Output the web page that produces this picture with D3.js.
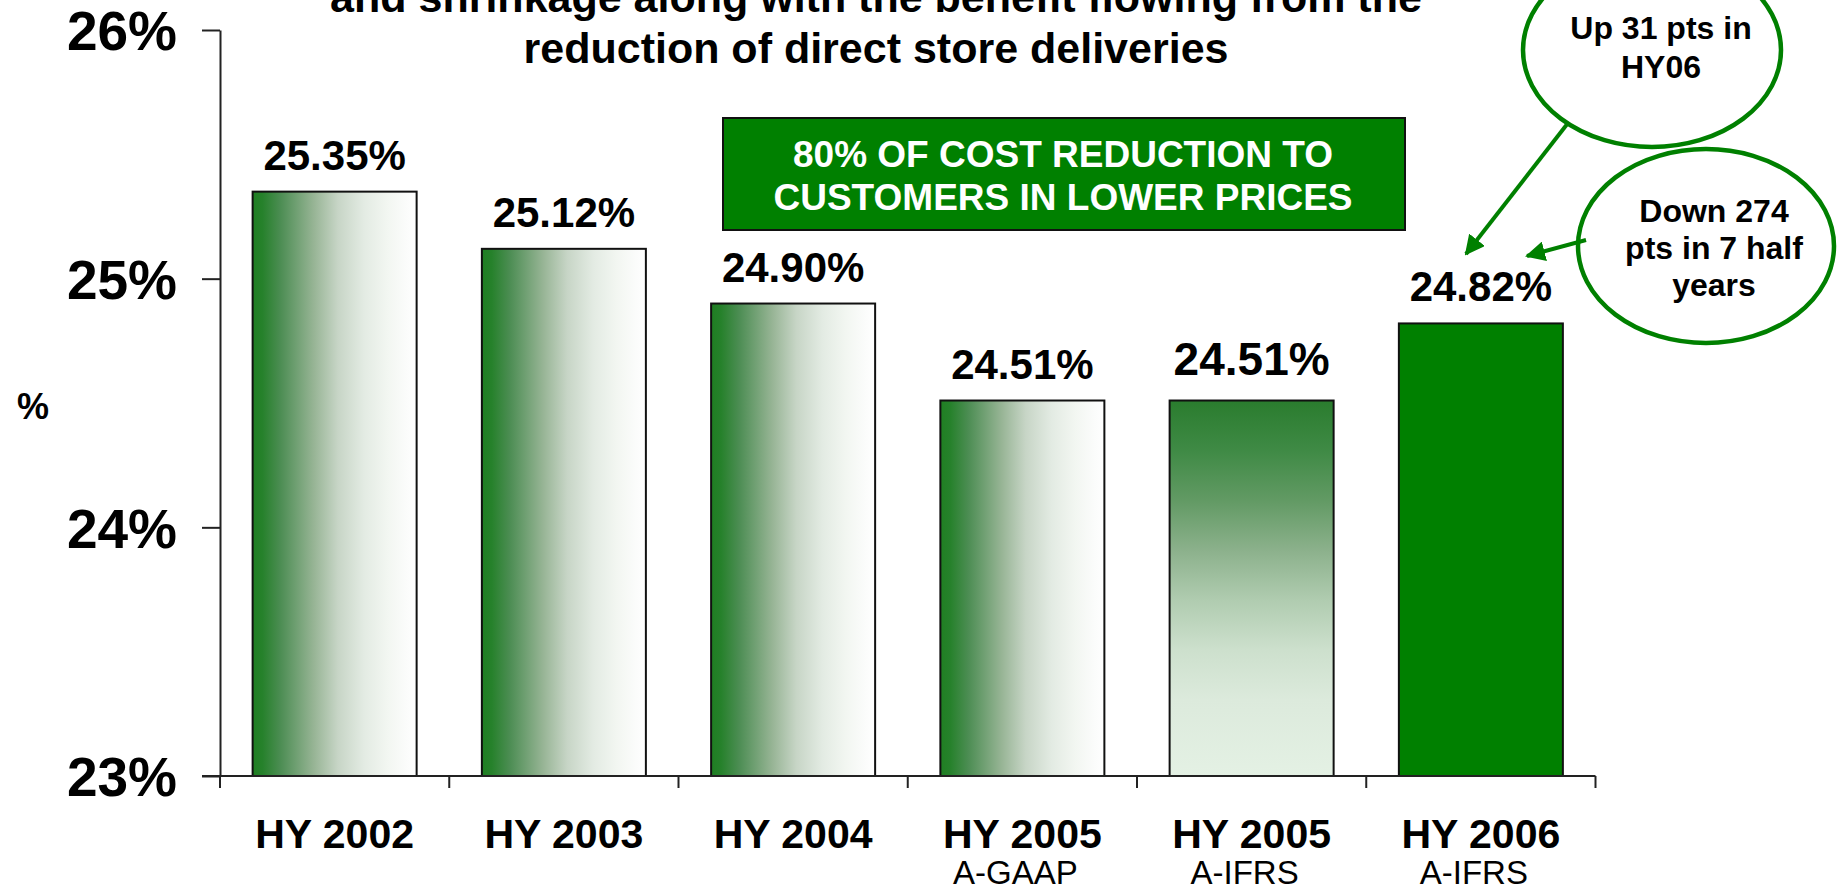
<!DOCTYPE html>
<html>
<head>
<meta charset="utf-8">
<script src="https://cdn.jsdelivr.net/npm/d3@7"></script>
<style>
  html, body { margin: 0; padding: 0; background: #fff; }
  svg { display: block; font-family: "Liberation Sans", Arial, sans-serif; }
</style>
</head>
<body>
<svg id="chart" width="1838" height="890"></svg>
<script>
// ---- data ----
const categories = ["HY 2002", "HY 2003", "HY 2004", "HY 2005 A-GAAP", "HY 2005 A-IFRS", "HY 2006 A-IFRS"];
const mainLabels = ["HY 2002", "HY 2003", "HY 2004", "HY 2005", "HY 2005", "HY 2006"];
const subLabels = ["", "", "", "A-GAAP", "A-IFRS", "A-IFRS"];
const values = [25.35, 25.12, 24.90, 24.51, 24.51, 24.82];
const valueLabels = ["25.35%", "25.12%", "24.90%", "24.51%", "24.51%", "24.82%"];
const fillStyles = ["hgrad", "hgrad", "hgrad", "hgrad", "vgrad", "solid"];
const yTicks = [23, 24, 25, 26];
const titleLines = ["and shrinkage along with the benefit flowing from the", "reduction of direct store deliveries"];
const boxLines = ["80% OF COST REDUCTION TO", "CUSTOMERS IN LOWER PRICES"];
const bubble1Lines = ["Up 31 pts in", "HY06"];
const bubble2Lines = ["Down 274", "pts in 7 half", "years"];

// ---- setup ----
const svg = d3.select("#chart");
const GREEN = "#008000";
const defs = svg.append("defs");

const hg = defs.append("linearGradient").attr("id", "hgrad")
  .attr("x1", "0%").attr("x2", "100%").attr("y1", "0%").attr("y2", "0%");
[[0, "#1f7f22"], [0.06, "#26812b"], [0.17, "#4c8d53"], [0.376, "#98b596"], [0.52, "#c7d5c6"],
 [0.68, "#e3ebe3"], [0.82, "#f2f6f1"], [0.94, "#fbfcfb"], [1, "#ffffff"]]
  .forEach(([o, c]) => hg.append("stop").attr("offset", o).attr("stop-color", c));

const vg = defs.append("linearGradient").attr("id", "vgrad")
  .attr("x1", "0%").attr("x2", "0%").attr("y1", "0%").attr("y2", "100%");
[[0, "#2a7c2e"], [0.133, "#3f8a45"], [0.266, "#629a64"], [0.4, "#8cb18c"], [0.532, "#b0ccb0"],
 [0.665, "#cde0cd"], [0.798, "#dceadc"], [1, "#e4f1e4"]]
  .forEach(([o, c]) => vg.append("stop").attr("offset", o).attr("stop-color", c));

defs.append("marker").attr("id", "arrow")
  .attr("viewBox", "0 0 10 10").attr("refX", 9).attr("refY", 5)
  .attr("markerWidth", 5).attr("markerHeight", 5).attr("markerUnits", "strokeWidth")
  .attr("orient", "auto")
  .append("path").attr("d", "M0,0 L10,5 L0,10 Z").attr("fill", GREEN);

// ---- scales ----
const x = d3.scaleBand().domain(categories).range([220, 1595.5])
  .paddingInner(0.2846).paddingOuter(0.1423);
const y = d3.scaleLinear().domain([23, 26]).range([776, 30]);

// ---- title ----
svg.append("g").selectAll("text").data(titleLines).join("text")
  .attr("x", 876).attr("y", (d, i) => 12 + i * 50.5)
  .attr("text-anchor", "middle").attr("font-weight", "bold").attr("font-size", 43)
  .attr("fill", "#000").text(d => d);

// ---- y axis ----
const yAxis = svg.append("g").attr("transform", "translate(220,0)")
  .call(d3.axisLeft(y).tickValues(yTicks).tickSize(18).tickSizeOuter(0).tickPadding(25)
    .tickFormat(d => d + "%"));
yAxis.select(".domain").attr("stroke", "#222").attr("stroke-width", 2);
yAxis.selectAll(".tick line").attr("stroke", "#222").attr("stroke-width", 2);
yAxis.selectAll(".tick text").attr("font-size", 55).attr("font-weight", "bold")
  .attr("fill", "#000").attr("font-family", "'Liberation Sans', Arial, sans-serif")
  .attr("dy", "0.36em");

svg.append("text").attr("x", 33).attr("y", 419).attr("text-anchor", "middle")
  .attr("font-size", 36).attr("font-weight", "bold").text("%");

// ---- bars ----
svg.append("g").selectAll("rect").data(values).join("rect")
  .attr("x", (d, i) => x(categories[i]))
  .attr("y", d => y(d))
  .attr("width", x.bandwidth())
  .attr("height", d => y(23) - y(d))
  .attr("fill", (d, i) => fillStyles[i] === "solid" ? GREEN : `url(#${fillStyles[i]})`)
  .attr("stroke", "#111").attr("stroke-width", 2);

// ---- x axis ----
const xa = svg.append("g");
xa.append("line").attr("x1", 202).attr("x2", x.range()[1]).attr("y1", y(23)).attr("y2", y(23))
  .attr("stroke", "#222").attr("stroke-width", 2);
const bounds = d3.range(categories.length + 1).map(i => x.range()[0] + i * x.step());
xa.selectAll("line.tk").data(bounds).join("line").attr("class", "tk")
  .attr("x1", d => d).attr("x2", d => d).attr("y1", y(23)).attr("y2", y(23) + 12)
  .attr("stroke", "#222").attr("stroke-width", 2);

xa.selectAll("text.main").data(mainLabels).join("text").attr("class", "main")
  .attr("x", (d, i) => x(categories[i]) + x.bandwidth() / 2)
  .attr("y", 848).attr("text-anchor", "middle")
  .attr("font-size", 41).attr("font-weight", "bold").text(d => d);
xa.selectAll("text.sub").data(subLabels).join("text").attr("class", "sub")
  .attr("x", (d, i) => x(categories[i]) + x.bandwidth() / 2 - 7)
  .attr("y", 884).attr("text-anchor", "middle")
  .attr("font-size", 33).text(d => d);

// ---- value labels ----
svg.append("g").selectAll("text").data(values).join("text")
  .attr("x", (d, i) => x(categories[i]) + x.bandwidth() / 2)
  .attr("y", (d, i) => y(d) - (i === 4 ? 26 : 22))
  .attr("text-anchor", "middle").attr("font-weight", "bold")
  .attr("font-size", (d, i) => i === 4 ? 46 : 42)
  .text((d, i) => valueLabels[i]);

// ---- green box ----
svg.append("rect").attr("x", 723).attr("y", 118).attr("width", 682).attr("height", 112)
  .attr("fill", GREEN).attr("stroke", "#111").attr("stroke-width", 2);
svg.append("g").selectAll("text").data(boxLines).join("text")
  .attr("x", 1063).attr("y", (d, i) => 167 + i * 43)
  .attr("text-anchor", "middle").attr("fill", "#fff").attr("font-weight", "bold")
  .attr("font-size", 37).text(d => d);

// ---- bubbles ----
svg.append("ellipse").attr("cx", 1652).attr("cy", 50).attr("rx", 129).attr("ry", 97)
  .attr("fill", "#fff").attr("stroke", GREEN).attr("stroke-width", 4.5);
svg.append("g").selectAll("text").data(bubble1Lines).join("text")
  .attr("x", 1661).attr("y", (d, i) => 39 + i * 39)
  .attr("text-anchor", "middle").attr("font-weight", "bold").attr("font-size", 32).text(d => d);

svg.append("ellipse").attr("cx", 1706).attr("cy", 246).attr("rx", 128).attr("ry", 97)
  .attr("fill", "#fff").attr("stroke", GREEN).attr("stroke-width", 4.5);
svg.append("g").selectAll("text").data(bubble2Lines).join("text")
  .attr("x", 1714).attr("y", (d, i) => 222 + i * 37)
  .attr("text-anchor", "middle").attr("font-weight", "bold").attr("font-size", 32).text(d => d);

// ---- arrows ----
svg.append("line").attr("x1", 1568).attr("y1", 123).attr("x2", 1466).attr("y2", 254)
  .attr("stroke", GREEN).attr("stroke-width", 4).attr("marker-end", "url(#arrow)");
svg.append("line").attr("x1", 1586).attr("y1", 240).attr("x2", 1527).attr("y2", 256)
  .attr("stroke", GREEN).attr("stroke-width", 4).attr("marker-end", "url(#arrow)");
</script>
</body>
</html>
